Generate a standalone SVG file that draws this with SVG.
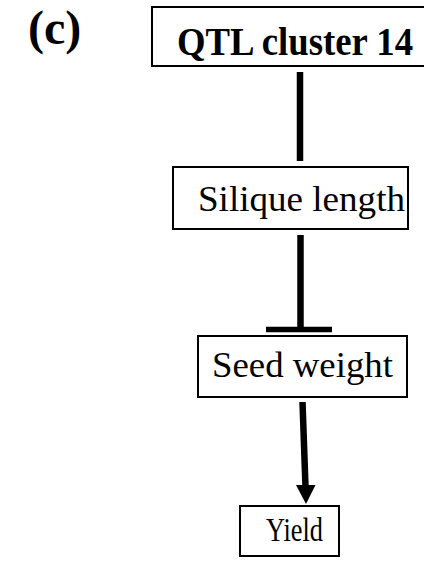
<svg xmlns="http://www.w3.org/2000/svg" width="424" height="567" viewBox="0 0 424 567">
  <style>
    .box { fill: #ffffff; stroke: #000000; stroke-width: 2; }
    .lbl { font-family: "Liberation Serif", "Times New Roman", serif; fill: #000000; }
    .bold { font-weight: bold; }
    .edge { stroke: #000000; stroke-width: 6.5; fill: none; }
  </style>
  <rect width="424" height="567" fill="#ffffff"/>

  <!-- panel label -->
  <text class="lbl bold" x="28" y="44" font-size="48">(c)</text>

  <!-- connectors -->
  <g id="connectors">
    <line class="edge" x1="300" y1="72" x2="300" y2="161"/>
    <!-- inhibition: flat bar end -->
    <line class="edge" x1="300.5" y1="235" x2="300.5" y2="327"/>
    <line stroke="#000000" stroke-width="5.5" x1="266" y1="329.5" x2="332" y2="329.5"/>
    <!-- promotion: arrow -->
    <line class="edge" x1="302.5" y1="402" x2="305.5" y2="487"/>
    <polygon points="296,485 315.5,485 306,504" fill="#000000"/>
  </g>

  <g id="qtl-cluster-14">
    <rect class="box" x="152" y="7" width="276" height="59"/>
    <text class="lbl bold" x="177" y="55" font-size="40" textLength="236" lengthAdjust="spacingAndGlyphs">QTL cluster 14</text>
  </g>

  <g id="silique-length">
    <rect class="box" x="173" y="167" width="235" height="62"/>
    <text class="lbl" x="198" y="211" font-size="36" textLength="207" lengthAdjust="spacingAndGlyphs">Silique length</text>
  </g>

  <g id="seed-weight">
    <rect class="box" x="198" y="336" width="209" height="61"/>
    <text class="lbl" x="212" y="377" font-size="35" textLength="181" lengthAdjust="spacingAndGlyphs">Seed weight</text>
  </g>

  <g id="yield">
    <rect class="box" x="240" y="506" width="99" height="50"/>
    <text class="lbl" x="266" y="541" font-size="33" textLength="57" lengthAdjust="spacingAndGlyphs">Yield</text>
  </g>
</svg>
